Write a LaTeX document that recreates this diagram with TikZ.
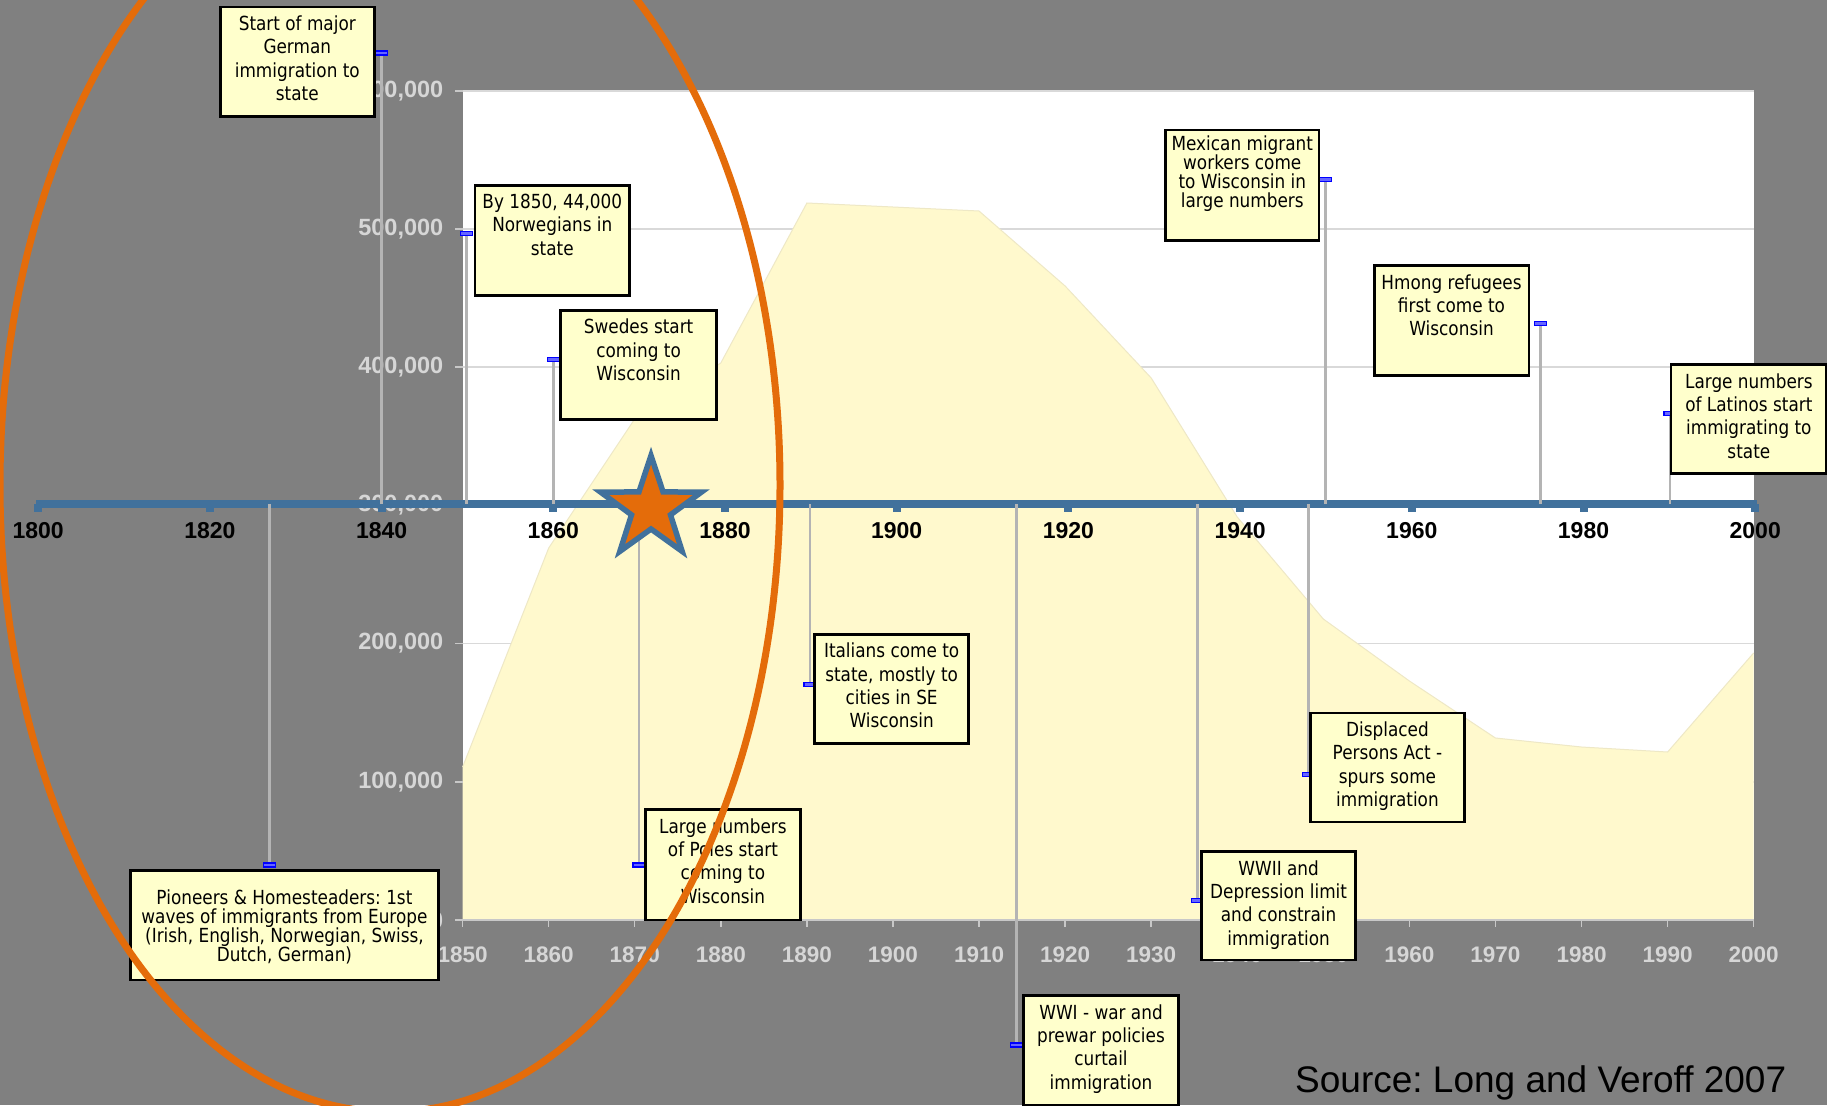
\documentclass[tikz,border=0pt]{standalone}
\usepackage{fontspec}
\newfontfamily\boxfont{DejaVu Sans}[FakeStretch=0.87]
\newfontfamily\arialf{Liberation Sans}
\definecolor{bggray}{HTML}{808080}
\definecolor{gridgray}{HTML}{D9D9D9}
\definecolor{areayellow}{HTML}{FFF9CD}
\definecolor{areaedge}{HTML}{EEE8C6}
\definecolor{boxyellow}{HTML}{FFFFCC}
\definecolor{labgray}{HTML}{D6D6D6}
\definecolor{axgray}{HTML}{C8C8C8}
\definecolor{tlblue}{HTML}{41719C}
\definecolor{starorange}{HTML}{E46C0A}
\definecolor{conngray}{HTML}{B4B4B4}
\definecolor{markblue}{HTML}{0000FF}
\frenchspacing
\begin{document}
\begin{tikzpicture}[x=1pt,y=-1pt,
  box/.style={draw=black, line width=2.6pt, fill=boxyellow, inner sep=0pt, anchor=north west},
  boxtext/.style={font=\boxfont\fontsize{19.4}{23.3}\selectfont, align=center, inner sep=0pt, anchor=north},
  tighttext/.style={font=\boxfont\fontsize{19.4}{19}\selectfont, align=center, inner sep=0pt, anchor=north},
  marker/.style={draw=markblue, fill=markblue!60, line width=1.3pt, minimum width=12pt, minimum height=4pt, inner sep=0pt},
  conn/.style={draw=conngray, line width=2.5pt},
  ylab/.style={font=\arialf\bfseries\fontsize{23.5}{23.5}\selectfont, text=labgray, anchor=east, inner sep=0pt},
  xlab/.style={font=\arialf\bfseries\fontsize{22.5}{22.5}\selectfont, text=labgray, inner sep=0pt},
  tlab/.style={font=\arialf\bfseries\fontsize{23}{23}\selectfont, text=black, inner sep=0pt}
]
\useasboundingbox (0,0) rectangle (1827,1105);
\clip (0,0) rectangle (1827,1105);
\fill[bggray] (0,0) rectangle (1827,1105);

% plot area
\fill[white] (462.6,90.9) rectangle (1753.6,920);
\foreach \k in {1,...,6}{
  \draw[gridgray, line width=1.5pt] (462.6,{920-\k*138.2}) -- (1753.6,{920-\k*138.2});
}
\fill[areayellow] (462.6,920) -- (462.6,767) -- (548.7,548) -- (634.7,419) -- (720.8,363) -- (806.9,203) -- (892.9,207) -- (979.0,211) -- (1065.1,286) -- (1151.2,378) -- (1237.2,517) -- (1323.3,619) -- (1409.4,681) -- (1495.4,738) -- (1581.5,747) -- (1667.6,752) -- (1753.6,653) -- (1753.6,920) -- cycle;
\draw[areaedge, line width=1pt] (462.6,767) -- (548.7,548) -- (634.7,419) -- (720.8,363) -- (806.9,203) -- (892.9,207) -- (979.0,211) -- (1065.1,286) -- (1151.2,378) -- (1237.2,517) -- (1323.3,619) -- (1409.4,681) -- (1495.4,738) -- (1581.5,747) -- (1667.6,752) -- (1753.6,653);

% axes
\draw[axgray, line width=1.5pt] (462.6,920) -- (1753.6,920);
\foreach \i in {0,...,15}{
  \draw[axgray, line width=1.5pt] ({462.6+\i*86.07},920) -- ({462.6+\i*86.07},927);
}
\foreach \k/\t in {0/0,1/{100,000},2/{200,000},3/{300,000},4/{400,000},5/{500,000},6/{600,000}}{
  \draw[axgray, line width=1.5pt] (455,{920-\k*138.2}) -- (463,{920-\k*138.2});
  \node[ylab] (yl\k) at (443.5,{920-\k*138.2}) {\t};
}
\foreach \i [evaluate=\i as \yr using int(1850+10*\i)] in {0,...,15}{
  \node[xlab] (cx\i) at ({462.6+\i*86.07},955) {\yr};
}

% timeline
\coordinate (tl0) at (36,504);
\coordinate (tl1) at (1757,504);
\draw[tlblue, line width=8.3pt] (tl0) -- (tl1);
\foreach \i [evaluate=\i as \yr using int(1800+20*\i)] in {0,...,10}{
  \fill[tlblue] ({38.2+\i*171.7-4},504) rectangle ({38.2+\i*171.7+4},511.5);
  \node[tlab] (ty\i) at ({38.2+\i*171.7},531) {\yr};
}

% connectors
\foreach \n/\x/\y in {G/381.7/53, N/466.7/233.3, S/553.3/359.5, P/269.3/865, Po/639/865, I/810/684.3, Wa/1016.3/1045, Wb/1197.5/900.7, D/1308.5/774.3, M/1325.4/179.3, H/1540.4/323.3, L/1670/413.5}{
  \coordinate (t\n) at (\x,504);
  \coordinate (m\n) at (\x,\y);
  \draw[conn] (t\n) -- (m\n);
  \node[marker] (mk\n) at (m\n) {};
}

% boxes
\node[box, minimum width=154pt, minimum height=109.5pt] (bG) at (219,5.7) {};
\node[boxtext] (xG) at ([yshift=-10pt]bG.north) {Start of major\\German\\immigration to\\state};

\node[box, minimum width=154.6pt, minimum height=110.3pt] (bN) at (473.7,184) {};
\node[boxtext] (xN) at ([yshift=-10pt]bN.north) {By 1850, 44,000\\Norwegians in\\state};

\node[box, minimum width=156pt, minimum height=109.3pt] (bS) at (559.3,309) {};
\node[boxtext] (xS) at ([yshift=-10pt]bS.north) {Swedes start\\coming to\\Wisconsin};

\node[box, minimum width=308.3pt, minimum height=109.4pt] (bP) at (129,869.3) {};
\node[tighttext] (xP) at ([yshift=-20pt]bP.north) {Pioneers \& Homesteaders: 1st\\waves of immigrants from Europe\\(Irish, English, Norwegian, Swiss,\\Dutch, German)};

\node[box, minimum width=154.7pt, minimum height=110.4pt] (bPo) at (644.3,808.3) {};
\node[boxtext] (xPo) at ([yshift=-10pt]bPo.north) {Large numbers\\of Poles start\\coming to\\Wisconsin};

\node[box, minimum width=154.1pt, minimum height=109.3pt] (bI) at (813.3,633) {};
\node[boxtext] (xI) at ([yshift=-10pt]bI.north) {Italians come to\\state, mostly to\\cities in SE\\Wisconsin};

\node[box, minimum width=155.4pt, minimum height=110pt] (bWa) at (1022,994.3) {};
\node[boxtext] (xWa) at ([yshift=-10pt]bWa.north) {WWI - war and\\prewar policies\\curtail\\immigration};

\node[box, minimum width=153.8pt, minimum height=108.4pt] (bWb) at (1200.4,850.3) {};
\node[boxtext] (xWb) at ([yshift=-10pt]bWb.north) {WWII and\\Depression limit\\and constrain\\immigration};

\node[box, minimum width=154.3pt, minimum height=109pt] (bD) at (1309,711.7) {};
\node[boxtext] (xD) at ([yshift=-10pt]bD.north) {Displaced\\Persons Act -\\spurs some\\immigration};

\node[box, minimum width=153.1pt, minimum height=110.3pt] (bM) at (1164.4,128.7) {};
\node[tighttext] (xM) at ([yshift=-6.5pt]bM.north) {Mexican migrant\\workers come\\to Wisconsin in\\large numbers};

\node[box, minimum width=154.6pt, minimum height=110pt] (bH) at (1372.9,264.3) {};
\node[boxtext] (xH) at ([yshift=-10pt]bH.north) {Hmong refugees\\first come to\\Wisconsin};

\node[box, minimum width=155.5pt, minimum height=108.7pt] (bL) at (1669.8,363.3) {};
\node[boxtext] (xL) at ([yshift=-10pt]bL.north) {Large numbers\\of Latinos start\\immigrating to\\state};

% star
\begin{scope}[shift={(651,508.5)}]
\draw[fill=starorange, draw=tlblue, line width=5.5pt, miter limit=10]
  (-90:53) -- (-54:20.5) -- (-18:53) -- (18:20.5) -- (54:53) -- (90:20.5) -- (126:53) -- (162:20.5) -- (198:53) -- (234:20.5) -- cycle;
\end{scope}

% ellipse
\draw[starorange, line width=7pt] (390,485) ellipse [x radius=390, y radius=627];

% source
\node[font=\arialf\fontsize{37}{40}\selectfont, anchor=base west, inner sep=0pt] (src) at (1295,1092.3) {Source: Long and Veroff 2007};
\end{tikzpicture}
\end{document}
